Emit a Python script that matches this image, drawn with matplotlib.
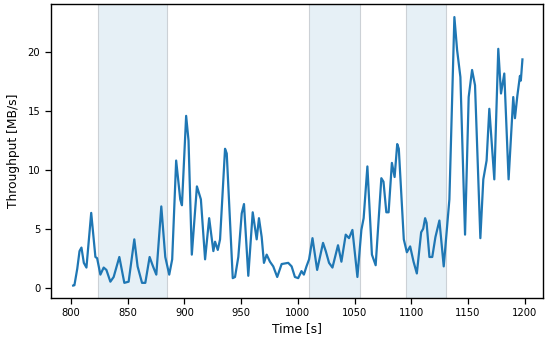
import matplotlib
matplotlib.use("Agg")
import matplotlib.pyplot as plt

time_s = [801.9, 803.0, 805.5, 807.5, 809.2, 811.3, 813.6, 817.8, 821.5, 823.0,
          825.9, 828.8, 831.2, 834.7, 837.6, 842.6, 847.0, 850.8, 855.8, 858.7,
          862.6, 865.5, 869.3, 872.3, 875.2, 879.6, 883.1, 886.6, 889.2, 892.7,
          896.3, 897.8, 901.5, 903.6, 906.5, 911.0, 914.5, 918.2, 921.8, 925.5,
          927.0, 929.4, 931.4, 935.8, 937.3, 942.6, 944.6, 947.5, 950.5, 952.5,
          956.3, 960.2, 963.7, 965.7, 968.1, 970.1, 972.5, 975.4, 978.3, 981.8,
          985.7, 991.5, 994.5, 997.4, 1000.3, 1003.2, 1005.3, 1007.6, 1009.9, 1012.9,
          1017.0, 1022.2, 1024.6, 1027.5, 1030.5, 1035.4, 1038.4, 1042.2, 1045.1, 1048.1,
          1052.5, 1056.0, 1058.0, 1061.3, 1065.3, 1068.6, 1073.6, 1075.5, 1078.0, 1080.0,
          1082.9, 1085.3, 1087.6, 1089.0, 1093.4, 1096.1, 1099.0, 1102.0, 1104.9, 1108.7,
          1110.5, 1112.2, 1113.5, 1116.0, 1118.5, 1121.3, 1124.8, 1128.6, 1133.6, 1138.0,
          1140.4, 1143.3, 1147.4, 1150.6, 1153.6, 1156.2, 1160.9, 1163.5, 1166.4, 1168.8,
          1173.2, 1176.7, 1179.1, 1182.0, 1185.8, 1189.9, 1191.4, 1193.5, 1195.8, 1196.6,
          1198.0]
throughput = [0.17, 0.2, 1.6, 3.1, 3.4, 2.1, 1.7, 6.35, 2.6, 2.5,
              1.1, 1.7, 1.5, 0.5, 0.9, 2.6, 0.4, 0.5, 4.1, 1.8,
              0.4, 0.4, 2.6, 1.8, 1.1, 6.9, 2.6, 1.1, 2.4, 10.8,
              7.5, 7.0, 14.6, 12.5, 2.8, 8.6, 7.5, 2.4, 5.9, 3.1,
              3.9, 3.2, 4.1, 11.8, 11.4, 0.8, 0.9, 2.6, 6.3, 7.1,
              1.0, 6.4, 4.1, 5.9, 4.3, 2.1, 2.8, 2.2, 1.8, 0.9,
              2.0, 2.1, 1.8, 0.9, 0.8, 1.4, 1.1, 1.8, 2.4, 4.2,
              1.5, 3.8, 3.1, 2.1, 1.7, 3.6, 2.2, 4.5, 4.2, 4.9,
              0.9, 4.9, 5.9, 10.3, 2.8, 1.9, 9.3, 9.0, 6.4, 6.4,
              10.6, 9.4, 12.2, 11.8, 4.1, 3.0, 3.5, 2.2, 1.2, 4.7,
              5.0, 5.9, 5.5, 2.6, 2.6, 4.3, 5.7, 1.8, 7.5, 23.0,
              20.2, 17.9, 4.5, 16.2, 18.5, 17.2, 4.2, 9.2, 10.8, 15.2,
              9.2, 20.3, 16.5, 18.2, 9.2, 16.2, 14.4, 16.3, 18.0, 17.6,
              19.4]
span_starts = [824, 1010, 1095]
span_ends = [885, 1055, 1131]
x_ticks = [800, 850, 900, 950, 1000, 1050, 1100, 1150, 1200]
y_ticks = [0, 5, 10, 15, 20]

fig = plt.figure(figsize=(5.5, 3.44), dpi=100)
ax = fig.add_axes([0.092, 0.135, 0.895, 0.853])

for s, e in zip(span_starts, span_ends):
    ax.axvspan(s, e, facecolor="#1f77b4", alpha=0.11, edgecolor="none", zorder=0)
    ax.axvspan(s, e, facecolor="none", edgecolor=(0.80, 0.82, 0.84), linewidth=0.8, zorder=0.5)

ax.plot(time_s, throughput, color="#1f77b4", linewidth=1.6, zorder=2)

ax.set_xlim(782, 1216)
ax.set_ylim(-0.85, 24.1)
ax.set_xticks(x_ticks)
ax.set_yticks(y_ticks)
ax.tick_params(axis="both", labelsize=7.2, length=4, width=0.9, direction="out")
ax.set_xlabel("Time [s]", fontsize=8.8, labelpad=3)
ax.set_ylabel("Throughput [MB/s]", fontsize=8.8, labelpad=5)
for sp in ax.spines.values():
    sp.set_linewidth(1.0)
    sp.set_color("black")

fig.savefig("out.png", dpi=100)
